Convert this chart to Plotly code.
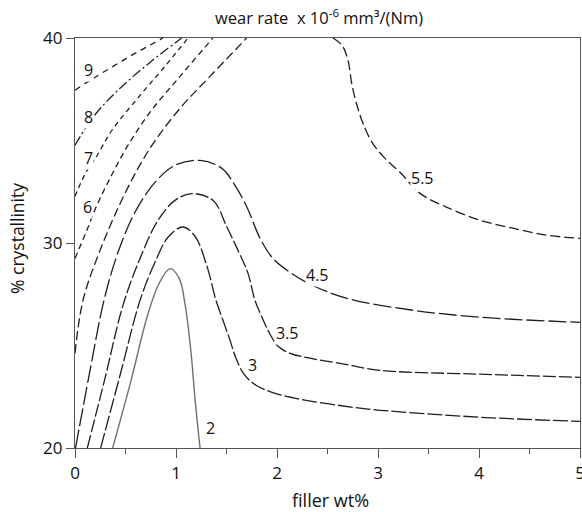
import plotly.graph_objects as go

# Contour lines of wear rate over filler content and crystallinity
# (x = filler wt%, y = % crystallinity)

c9_x = [0.0, 0.119, 0.267, 0.545, 0.871]
c9_y = [37.45, 37.84, 38.29, 39.11, 40.0]

c8_x = [0.0, 0.109, 0.218, 0.446, 0.743, 1.056]
c8_y = [34.77, 35.64, 36.38, 37.55, 38.81, 40.0]

c7_x = [0.0, 0.109, 0.208, 0.366, 0.644, 0.891, 1.119]
c7_y = [32.28, 33.45, 34.18, 35.50, 37.20, 38.62, 40.0]

c6_x = [0.0, 0.109, 0.208, 0.347, 0.525, 0.743, 1.040, 1.366]
c6_y = [29.25, 30.52, 31.74, 33.16, 34.77, 36.38, 38.13, 40.0]

c5_x = [0.0, 0.079, 0.248, 0.495, 0.743, 1.040, 1.337, 1.700]
c5_y = [24.62, 27.20, 29.64, 32.42, 34.62, 36.57, 38.13, 40.0]

c55_x = [2.554, 2.644, 2.703, 2.743, 2.792, 2.851, 2.941, 3.069, 3.218,
         3.416, 3.683, 4.010, 4.337, 4.673, 5.0]
c55_y = [40.0, 39.64, 38.91, 37.69, 36.72, 35.84, 34.91, 34.13, 33.45,
         32.42, 31.74, 31.11, 30.72, 30.38, 30.23]

c45_x = [0.005, 0.149, 0.287, 0.426, 0.594, 0.792, 0.990, 1.238, 1.455,
         1.584, 1.703, 1.832, 1.960, 2.129, 2.327, 2.693, 3.347, 4.010, 5.0]
c45_y = [20.0, 23.79, 27.20, 29.55, 31.50, 32.96, 33.79, 34.03, 33.64,
         32.81, 31.74, 30.23, 29.25, 28.57, 27.99, 27.30, 26.72, 26.38, 26.13]

c35_x = [0.122, 0.297, 0.475, 0.644, 0.822, 0.990, 1.155, 1.366, 1.505,
         1.614, 1.713, 1.782, 1.851, 1.931, 2.010, 2.129, 2.327, 2.624,
         3.020, 4.010, 5.0]
c35_y = [20.0, 23.40, 26.96, 29.25, 31.11, 32.08, 32.41, 32.08, 30.77,
         29.64, 28.52, 27.20, 26.38, 25.55, 24.96, 24.62, 24.38, 24.13,
         23.79, 23.60, 23.45]

c3_x = [0.254, 0.446, 0.644, 0.792, 0.921, 1.066, 1.188, 1.307, 1.396,
        1.465, 1.535, 1.594, 1.673, 1.792, 1.980, 2.228, 2.822, 3.020,
        4.010, 5.0]
c3_y = [20.0, 23.55, 27.20, 29.06, 30.28, 30.78, 30.33, 28.86, 27.20,
        26.23, 25.25, 24.38, 23.60, 23.06, 22.67, 22.38, 21.94, 21.84,
        21.50, 21.30]

c2_x = [0.373, 0.550, 0.720, 0.830, 0.941, 1.030, 1.090, 1.150, 1.190, 1.238]
c2_y = [20.0, 23.20, 26.50, 28.00, 28.75, 28.30, 27.00, 24.60, 22.30, 20.0]

# contour level labels and where they sit
label_text = ["9", "8", "7", "6", "5.5", "4.5", "3.5", "3", "2"]
label_x = [0.129, 0.129, 0.129, 0.119, 3.436, 2.396, 2.10, 1.762, 1.337]
label_y = [38.42, 36.13, 34.13, 31.74, 33.16, 28.42, 25.6, 24.04, 20.96]

x_ticks = [0, 1, 2, 3, 4, 5]
y_ticks = [20, 30, 40]

ink = "#1e1e1e"
lines = [
    (c9_x, c9_y, "6px,5px", ink, 1.3),
    (c8_x, c8_y, "10px,3px,2px,3px", ink, 1.3),
    (c7_x, c7_y, "5px,4px", ink, 1.3),
    (c6_x, c6_y, "6px,4px", ink, 1.3),
    (c5_x, c5_y, "9px,4px", ink, 1.3),
    (c55_x, c55_y, "10px,4px", ink, 1.3),
    (c45_x, c45_y, "18px,4px", ink, 1.3),
    (c35_x, c35_y, "13px,3px", ink, 1.3),
    (c3_x, c3_y, "15px,3px", ink, 1.3),
    (c2_x, c2_y, "solid", "#707070", 1.4),
]

fig = go.Figure()
for xs, ys, dash, col, w in lines:
    fig.add_trace(go.Scatter(
        x=xs, y=ys, mode="lines",
        line=dict(color=col, width=w, dash=dash, shape="spline", smoothing=1.0),
        hoverinfo="skip", showlegend=False, cliponaxis=True,
    ))

# level labels sit on a white patch so the contour line breaks around them
annots = [
    dict(text=t, x=lx, y=ly, xref="x", yref="y", showarrow=False,
         xanchor="center", yanchor="middle", bgcolor="white", borderpad=0,
         font=dict(size=16, family="Open Sans", color="#111"))
    for t, lx, ly in zip(label_text, label_x, label_y)
]

annots += [
    dict(text="wear rate  x 10<sup>-6</sup> mm³/(Nm)", xref="paper", yref="paper",
         x=0.273, y=1.051, xanchor="left", yanchor="middle", showarrow=False,
         font=dict(size=16.5, family="Open Sans", color="#111")),
    dict(text="filler wt%", xref="paper", yref="paper",
         x=0.505, y=-0.127, xanchor="center", yanchor="middle", showarrow=False,
         font=dict(size=18, family="Open Sans", color="#111")),
    dict(text="% crystallinity", xref="paper", yref="paper",
         x=-0.115, y=0.512, xanchor="center", yanchor="middle", showarrow=False,
         textangle=-90, font=dict(size=17.5, family="Open Sans", color="#111")),
]

fig.update_layout(
    width=582, height=512,
    margin=dict(l=75, r=2, t=38, b=64),
    paper_bgcolor="white", plot_bgcolor="white",
    font=dict(family="Open Sans", size=17, color="#111"),
    showlegend=False,
    annotations=annots,
)

fig.update_xaxes(
    range=[0, 5], tickvals=x_ticks, ticks="outside", ticklen=9, tickwidth=1.2,
    tickcolor="#555", showline=True, linecolor="#555", linewidth=1.3, mirror=True,
    showgrid=False, zeroline=False, ticklabeloverflow="allow", automargin=False,
    minor=dict(dtick=0.5, ticks="outside", ticklen=5, tickcolor="#555", tickwidth=1.2),
    tickfont=dict(size=17),
)
fig.update_yaxes(
    range=[20, 40], tickvals=y_ticks, ticks="outside", ticklen=8, tickwidth=1.2,
    tickcolor="#555", showline=True, linecolor="#555", linewidth=1.3, mirror=True,
    showgrid=False, zeroline=False, tickfont=dict(size=17), automargin=False,
)

fig.write_html("out.html")
